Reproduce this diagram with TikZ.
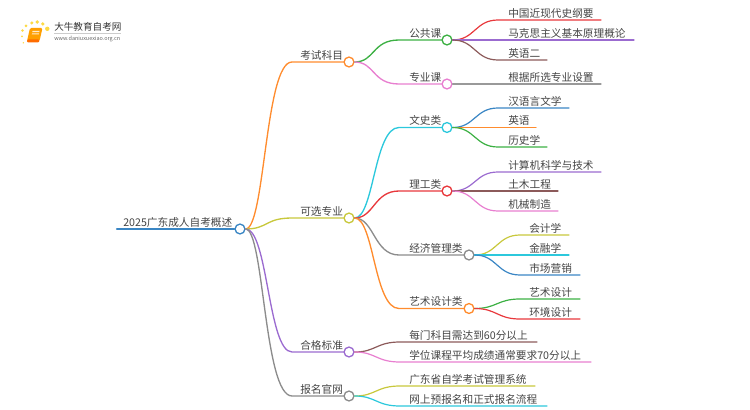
\documentclass[tikz,border=0pt]{standalone}
\usepackage{fontspec}
\setmainfont{Noto Sans CJK SC}
\usepackage{xcolor}
\usetikzlibrary{positioning, calc}
\definecolor{rootblue}{HTML}{3A86C4}
\definecolor{branchorange}{HTML}{FF8C2E}
\definecolor{brancholive}{HTML}{C8C83C}
\definecolor{branchpurple}{HTML}{9B6BD0}
\definecolor{branchgray}{HTML}{8C8C8C}
\definecolor{branchgreen}{HTML}{3CB043}
\definecolor{branchpink}{HTML}{E87FD0}
\definecolor{branchcyan}{HTML}{2CC8DC}
\definecolor{branchred}{HTML}{E8383C}
\definecolor{branchbrown}{HTML}{8C5A5A}
\definecolor{labelgray}{HTML}{444444}
\tikzset{
  lbl/.style={anchor=base west, inner sep=0pt, text=labelgray, font=\fontsize{8}{8}\selectfont},
  knob/.style={circle, draw=#1, fill=white, line width=1pt, minimum size=7.4pt, inner sep=0pt},
  wire/.style={draw=#1, line width=1pt, line cap=round},
  leaf/.style={draw=#1, line width=0.9pt, line cap=round}
}
\begin{document}
\begin{tikzpicture}[x=0.75pt, y=-0.75pt]
  \useasboundingbox (0,0) rectangle (750,410);
  \def\lift{2.8}

  % logo
  \foreach \px/\py/\pr in {47.3/28.8/2.2, 42.8/24/1.8, 37.3/22/1.9, 31.8/23/1.7, 26/26/1.5, 22.5/30.5/1.3, 22/36.5/1, 23.3/42.8/0.8}
    \fill[yellow!65!orange, opacity=0.75] (\px,\py) circle (\pr);
  \fill[orange!75!yellow, rounded corners=1pt] (30,28) -- (42.5,28) -- (39.5,41) -- (27,41) -- cycle;
  \fill[orange!85!red, rounded corners=0.8pt] (27,39.5) -- (39.5,39.5) -- (39,42.5) -- (27,42.5) -- cycle;
  \fill[white, opacity=0.8] (32.5,31) -- (39.5,31) -- (39.2,32.2) -- (32.2,32.2) -- cycle;
  \fill[white, opacity=0.8] (32,33.5) -- (39,33.5) -- (38.7,34.5) -- (31.7,34.5) -- cycle;
  \node[anchor=base west, inner sep=0pt, text=black!80, font=\fontsize{7.2}{7.2}\selectfont] (logoname) at (54,31) {大牛教育自考网};
  \draw[gray!40, line width=0.4pt] (54,33.6) -- (121,33.6);
  \node[anchor=base west, inner sep=0pt, text=black!60, font=\fontsize{4.1}{4.1}\selectfont] (logourl) at (54,40.4) {www.daniuxuexiao.org.cn};

  % root
  \node[knob=rootblue] (root) at (240,229) {};
  \coordinate (rootstart) at (117,229);
  \draw[wire=rootblue, line width=1.6pt] (rootstart) -- (root.west);
  \node[lbl] (roottext) at (123,229-\lift) {2025广东成人自考概述};

  % first level
  \node[knob=branchorange] (exam) at (349,62) {};
  \node[knob=brancholive] (major) at (349,218) {};
  \node[knob=branchpurple] (pass) at (349,352) {};
  \node[knob=branchgray] (site) at (349,396) {};
  \node[lbl] (examtext) at (300,62-\lift) {考试科目};
  \node[lbl] (majortext) at (300,218-\lift) {可选专业};
  \node[lbl] (passtext) at (300,352-\lift) {合格标准};
  \node[lbl] (sitetext) at (300,396-\lift) {报名官网};
  \coordinate (examin) at (292,62);
  \coordinate (majorin) at (292,218);
  \coordinate (passin) at (292,352);
  \coordinate (sitein) at (292,396);
  \draw[wire=branchorange] (root.east) .. controls (265,229) and (265,62) .. (examin) -- (exam.west);
  \draw[wire=brancholive] (root.east) .. controls (268,229) and (265,218) .. (majorin) -- (major.west);
  \draw[wire=branchpurple] (root.east) .. controls (268,229) and (268,352) .. (passin) -- (pass.west);
  \draw[wire=branchgray] (root.east) .. controls (264,229) and (264,396) .. (sitein) -- (site.west);

  % second level
  \node[knob=branchgreen] (public) at (447,40) {};
  \node[knob=branchpink] (special) at (447,84) {};
  \node[knob=branchcyan] (arts) at (447,127.5) {};
  \node[knob=branchred] (tech) at (447,191) {};
  \node[knob=branchgray] (econ) at (469,255) {};
  \node[knob=branchorange] (design) at (469,308.5) {};
  \node[lbl] (publictext) at (409,40-\lift) {公共课};
  \node[lbl] (specialtext) at (409,84-\lift) {专业课};
  \node[lbl] (artstext) at (409,127.5-\lift) {文史类};
  \node[lbl] (techtext) at (409,191-\lift) {理工类};
  \node[lbl] (econtext) at (409,255-\lift) {经济管理类};
  \node[lbl] (designtext) at (409,308.5-\lift) {艺术设计类};
  \coordinate (publicin) at (399,40);
  \coordinate (specialin) at (399,84);
  \coordinate (artsin) at (399,127.5);
  \coordinate (techin) at (399,191);
  \coordinate (econin) at (399,255);
  \coordinate (designin) at (399,308.5);
  \draw[wire=branchgreen] (exam.east) .. controls (375,62) and (372,40) .. (publicin) -- (public.west);
  \draw[wire=branchpink] (exam.east) .. controls (375,62) and (372,84) .. (specialin) -- (special.west);
  \draw[wire=branchcyan] (major.east) .. controls (374,218) and (374,127.5) .. (artsin) -- (arts.west);
  \draw[wire=branchred] (major.east) .. controls (374,218) and (374,191) .. (techin) -- (tech.west);
  \draw[wire=branchgray] (major.east) .. controls (374,218) and (374,255) .. (econin) -- (econ.west);
  \draw[wire=branchorange] (major.east) .. controls (374,218) and (374,308.5) .. (designin) -- (design.west);

  % leaves of public
  \coordinate (gangyaoin) at (498,20);
  \coordinate (gangyaoend) at (601,20);
  \coordinate (gailunin) at (498,40);
  \coordinate (gailunend) at (634,40);
  \coordinate (yingertin) at (498,60);
  \coordinate (yingertend) at (547,60);
  \node[lbl] (gangyao) at (508,20-\lift) {中国近现代史纲要};
  \node[lbl] (gailun) at (508,40-\lift) {马克思主义基本原理概论};
  \node[lbl] (yingert) at (508,60-\lift) {英语二};
  \draw[leaf=branchred] (public.east) .. controls (475,40) and (475,20) .. (gangyaoin) -- (gangyaoend);
  \draw[leaf=branchpurple] (public.east) -- (gailunin) -- (gailunend);
  \draw[leaf=branchbrown] (public.east) .. controls (475,40) and (475,60) .. (yingertin) -- (yingertend);

  % leaf of special
  \coordinate (shezhiend) at (601,84);
  \node[lbl] (shezhi) at (508,84-\lift) {根据所选专业设置};
  \draw[leaf=branchgray, draw=gray!80] (special.east) -- (shezhiend);

  % leaves of arts
  \coordinate (hanyuin) at (498,108);
  \coordinate (hanyuend) at (569,108);
  \coordinate (yingyuend) at (536,127.5);
  \coordinate (lishiin) at (498,147);
  \coordinate (lishiend) at (547,147);
  \node[lbl] (hanyu) at (508,108-\lift) {汉语言文学};
  \node[lbl] (yingyu) at (508,127.5-\lift) {英语};
  \node[lbl] (lishi) at (508,147-\lift) {历史学};
  \draw[leaf=rootblue] (arts.east) .. controls (475,127.5) and (475,108) .. (hanyuin) -- (hanyuend);
  \draw[leaf=branchorange] (arts.east) -- (yingyuend);
  \draw[leaf=branchgreen] (arts.east) .. controls (475,127.5) and (475,147) .. (lishiin) -- (lishiend);

  % leaves of tech
  \coordinate (jisuanin) at (498,172);
  \coordinate (jisuanend) at (601,172);
  \coordinate (tumuend) at (558,191);
  \coordinate (jixiein) at (498,211);
  \coordinate (jixieend) at (558,211);
  \node[lbl] (jisuan) at (508,172-\lift) {计算机科学与技术};
  \node[lbl] (tumu) at (508,191-\lift) {土木工程};
  \node[lbl] (jixie) at (508,211-\lift) {机械制造};
  \draw[leaf=branchpurple] (tech.east) .. controls (475,191) and (475,172) .. (jisuanin) -- (jisuanend);
  \draw[leaf=branchbrown] (tech.east) -- (tumuend);
  \draw[leaf=branchpink] (tech.east) .. controls (475,191) and (475,211) .. (jixiein) -- (jixieend);

  % leaves of econ
  \coordinate (kuaijiin) at (520,235);
  \coordinate (kuaijiend) at (569,235);
  \coordinate (jinrongend) at (569,255);
  \coordinate (yingxiaoin) at (520,275);
  \coordinate (yingxiaoend) at (580,275);
  \node[lbl] (kuaiji) at (529,235-\lift) {会计学};
  \node[lbl] (jinrong) at (529,255-\lift) {金融学};
  \node[lbl] (yingxiao) at (529,275-\lift) {市场营销};
  \draw[leaf=brancholive] (econ.east) .. controls (497,255) and (497,235) .. (kuaijiin) -- (kuaijiend);
  \draw[leaf=branchcyan] (econ.east) -- (jinrongend);
  \draw[leaf=rootblue] (econ.east) .. controls (497,255) and (497,275) .. (yingxiaoin) -- (yingxiaoend);

  % leaves of design
  \coordinate (yishuin) at (520,299);
  \coordinate (yishuend) at (580,299);
  \coordinate (huanjingin) at (520,319);
  \coordinate (huanjingend) at (580,319);
  \node[lbl] (yishu) at (529,299-\lift) {艺术设计};
  \node[lbl] (huanjing) at (529,319-\lift) {环境设计};
  \draw[leaf=branchgreen] (design.east) .. controls (497,308.5) and (497,299) .. (yishuin) -- (yishuend);
  \draw[leaf=branchred] (design.east) .. controls (497,308.5) and (497,319) .. (huanjingin) -- (huanjingend);

  % leaves of pass
  \coordinate (meimenin) at (400,342);
  \coordinate (meimenend) at (537,342);
  \coordinate (xueweiin) at (400,362);
  \coordinate (xueweiend) at (591,362);
  \node[lbl] (meimen) at (409,342-\lift) {每门科目需达到60分以上};
  \node[lbl] (xuewei) at (409,362-\lift) {学位课程平均成绩通常要求70分以上};
  \draw[leaf=branchbrown] (pass.east) .. controls (376,352) and (376,342) .. (meimenin) -- (meimenend);
  \draw[leaf=branchpink] (pass.east) .. controls (376,352) and (376,362) .. (xueweiin) -- (xueweiend);

  % leaves of site
  \coordinate (xitongin) at (400,386);
  \coordinate (xitongend) at (535,386);
  \coordinate (liuchengin) at (400,406);
  \coordinate (liuchengend) at (547,406);
  \node[lbl] (xitong) at (409,386-\lift) {广东省自学考试管理系统};
  \node[lbl] (liucheng) at (409,406-\lift) {网上预报名和正式报名流程};
  \draw[leaf=brancholive] (site.east) .. controls (376,396) and (376,386) .. (xitongin) -- (xitongend);
  \draw[leaf=branchcyan] (site.east) .. controls (376,396) and (376,406) .. (liuchengin) -- (liuchengend);
\end{tikzpicture}
\end{document}
